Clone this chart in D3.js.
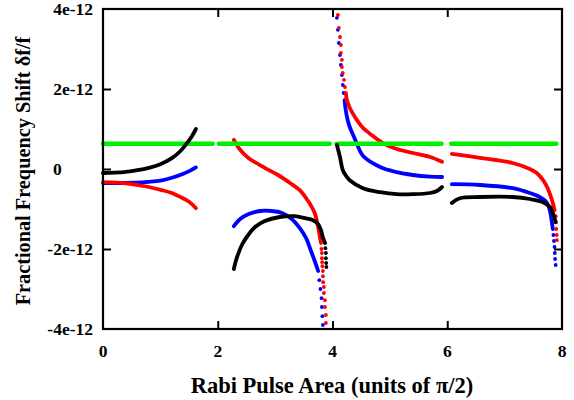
<!DOCTYPE html>
<html>
<head>
<meta charset="utf-8">
<script src="https://cdn.jsdelivr.net/npm/d3@7"></script>
<style>
  html, body { margin: 0; padding: 0; background: #fff; }
  svg { display: block; }
  text { font-family: "Liberation Serif", "Times New Roman", serif; font-weight: bold; fill: #000; }
</style>
</head>
<body>
<svg id="chart" width="574" height="400"></svg>
<script>
// ---- data (y values in units of 1e-12) ----
const xTickValues = [0, 2, 4, 6, 8];
const xTickLabels = ["0", "2", "4", "6", "8"];
const yTickValues = [-4, -2, 0, 2, 4];
const yTickLabels = ["-4e-12", "-2e-12", "0", "2e-12", "4e-12"];
const xTitle = "Rabi Pulse Area (units of \u03C0/2)";
const yTitle = "Fractional Frequency Shift \u03B4f/f";

const greenLevel = 0.63;
const greenSegments = [[0, 1.91], [2.02, 3.95], [4.07, 5.9], [6.07, 7.9]];

const blackSegments = [
  [[0,-0.1],[0.2,-0.09],[0.4,-0.07],[0.6,-0.03],[0.8,0.03],[1.0,0.12],[1.2,0.27],[1.35,0.45],[1.45,0.62],[1.55,0.82],[1.62,1.0]],
  [[2.28,-2.5],[2.33,-2.23],[2.42,-1.9],[2.53,-1.65],[2.65,-1.45],[2.82,-1.3],[3.08,-1.2],[3.34,-1.18],[3.52,-1.23],[3.66,-1.28],[3.75,-1.38],[3.8,-1.53],[3.83,-1.7],[3.87,-1.85]],
  [[4.077,0.6],[4.13,0.3],[4.18,-0.03],[4.25,-0.2],[4.3,-0.28],[4.53,-0.48],[4.83,-0.58],[5.12,-0.63],[5.4,-0.63],[5.7,-0.6],[5.82,-0.55],[5.91,-0.45]],
  [[6.08,-0.85],[6.22,-0.73],[6.57,-0.7],[7.14,-0.7],[7.44,-0.75],[7.67,-0.83],[7.79,-0.95],[7.84,-1.1],[7.87,-1.23],[7.89,-1.33]]
];
const blackDots = [[3.876,-1.98],[3.885,-2.1],[3.885,-2.23],[3.89,-2.35],[3.894,-2.45]];

const blueSegments = [
  [[0,-0.35],[0.4,-0.35],[0.8,-0.32],[1.0,-0.29],[1.2,-0.22],[1.4,-0.12],[1.52,-0.04],[1.62,0.04]],
  [[2.28,-1.43],[2.39,-1.25],[2.53,-1.13],[2.74,-1.05],[2.94,-1.05],[3.12,-1.1],[3.29,-1.25],[3.43,-1.48],[3.54,-1.73],[3.62,-2.03],[3.69,-2.3],[3.75,-2.55]],
  [[4.21,1.72],[4.23,1.48],[4.26,1.25],[4.3,1.05],[4.36,0.85],[4.425,0.63],[4.53,0.33],[4.83,0.05],[5.12,-0.08],[5.4,-0.15],[5.7,-0.19],[5.91,-0.2]],
  [[6.08,-0.38],[6.57,-0.4],[7.14,-0.48],[7.44,-0.6],[7.61,-0.7],[7.74,-0.85],[7.79,-1.05],[7.82,-1.3],[7.84,-1.5]]
];
const blueDots = [
  [3.77,-2.78],[3.79,-3.0],[3.81,-3.23],[3.815,-3.45],[3.824,-3.68],[3.833,-3.9],
  [4.077,3.78],[4.094,3.48],[4.11,3.15],[4.13,2.85],[4.146,2.6],[4.164,2.35],[4.18,2.1],[4.195,1.9],
  [7.85,-1.65],[7.86,-1.8],[7.87,-1.95],[7.875,-2.1],[7.88,-2.25],[7.89,-2.4]
];

const redSegments = [
  [[0,-0.33],[0.4,-0.36],[0.8,-0.45],[1.0,-0.52],[1.2,-0.6],[1.35,-0.7],[1.5,-0.82],[1.62,-0.98]],
  [[2.28,0.73],[2.39,0.48],[2.53,0.28],[2.82,0.03],[3.05,-0.15],[3.26,-0.35],[3.43,-0.53],[3.55,-0.75],[3.61,-0.88],[3.69,-1.1],[3.75,-1.45],[3.78,-1.7],[3.8,-1.85]],
  [[4.233,1.9],[4.25,1.73],[4.3,1.53],[4.39,1.3],[4.53,1.03],[4.7,0.83],[4.9,0.63],[5.12,0.5],[5.4,0.4],[5.7,0.3],[5.91,0.18]],
  [[6.08,0.38],[6.57,0.28],[7.14,0.15],[7.44,0.0],[7.56,-0.1],[7.67,-0.28],[7.74,-0.45],[7.79,-0.63],[7.84,-0.85],[7.87,-1.03]]
];
const redDots = [
  [3.807,-2.0],[3.815,-2.1],[3.815,-2.23],[3.82,-2.33],[3.824,-2.43],[3.833,-2.55],[3.833,-2.68],[3.838,-2.83],[3.85,-2.95],[3.85,-3.1],[3.868,-3.28],[3.868,-3.45],[3.885,-3.65],[3.885,-3.85],
  [4.094,3.85],[4.11,3.53],[4.13,3.3],[4.146,3.1],[4.146,2.9],[4.164,2.73],[4.164,2.55],[4.18,2.4],[4.2,2.23],[4.216,2.05],
  [7.89,-1.18],[7.89,-1.33],[7.9,-1.5],[7.91,-1.65],[7.91,-1.78]
];

// ---- layout ----
const svg = d3.select("#chart");
const mLeft = 103, mRight = 562, mTop = 9, mBottom = 329;
const x = d3.scaleLinear().domain([0, 8]).range([mLeft, mRight]);
const y = d3.scaleLinear().domain([-4, 4]).range([mBottom, mTop]);

const line = d3.line().x(d => x(d[0])).y(d => y(d[1])).curve(d3.curveCatmullRom.alpha(0.5));

function drawSeries(segs, dots, color) {
  const g = svg.append("g");
  segs.forEach(s => {
    g.append("path").attr("d", line(s))
      .attr("stroke", color).attr("stroke-width", 3.8).attr("stroke-linecap", "round")
      .attr("stroke-linejoin", "round").attr("fill", "none");
  });
  g.selectAll("circle").data(dots).join("circle")
    .attr("cx", d => x(d[0])).attr("cy", d => y(d[1])).attr("r", 1.9).attr("fill", color);
}
drawSeries(blueSegments, blueDots, "#0000ff");
drawSeries(redSegments, redDots, "#ff0000");

// green
const gG = svg.append("g");
greenSegments.forEach(s => {
  gG.append("path")
    .attr("d", line([[s[0], greenLevel], [s[1], greenLevel]]))
    .attr("stroke", "#00ee00").attr("stroke-width", 4.6).attr("stroke-linecap", "round").attr("fill", "none");
});

drawSeries(blackSegments, blackDots, "#000000");

// axes / frame
const axStyle = g => {
  g.select(".domain").remove();
  g.selectAll(".tick line").attr("stroke", "#000").attr("stroke-width", 2);
  g.selectAll(".tick text").remove();
};
const innerX = [2, 4, 6], innerY = [-2, 0, 2];
svg.append("g").attr("transform", `translate(0,${mBottom})`)
  .call(d3.axisBottom(x).tickValues(innerX).tickSize(-8)).call(axStyle);
svg.append("g").attr("transform", `translate(0,${mTop})`)
  .call(d3.axisTop(x).tickValues(innerX).tickSize(-8)).call(axStyle);
svg.append("g").attr("transform", `translate(${mLeft},0)`)
  .call(d3.axisLeft(y).tickValues(innerY).tickSize(-8)).call(axStyle);
svg.append("g").attr("transform", `translate(${mRight},0)`)
  .call(d3.axisRight(y).tickValues(innerY).tickSize(-8)).call(axStyle);

svg.append("rect").attr("x", mLeft).attr("y", mTop)
  .attr("width", mRight - mLeft).attr("height", mBottom - mTop)
  .attr("fill", "none").attr("stroke", "#000").attr("stroke-width", 2.2);

// tick labels
svg.append("g").selectAll("text").data(xTickValues).join("text")
  .attr("x", d => x(d)).attr("y", 357).attr("text-anchor", "middle")
  .attr("font-size", 17.5).text((d, i) => xTickLabels[i]);
svg.append("g").selectAll("text").data(yTickValues).join("text")
  .attr("x", d => d === 0 ? 53 : 93).attr("y", d => y(d) + 6)
  .attr("text-anchor", d => d === 0 ? "start" : "end")
  .attr("font-size", 17.5).text((d, i) => yTickLabels[i]);

// titles
svg.append("text").attr("x", 332).attr("y", 393).attr("text-anchor", "middle")
  .attr("font-size", 22.5).text(xTitle);
svg.append("text").attr("transform", "translate(30,171) rotate(-90)")
  .attr("text-anchor", "middle").attr("font-size", 20.3).text(yTitle);
</script>
</body>
</html>
